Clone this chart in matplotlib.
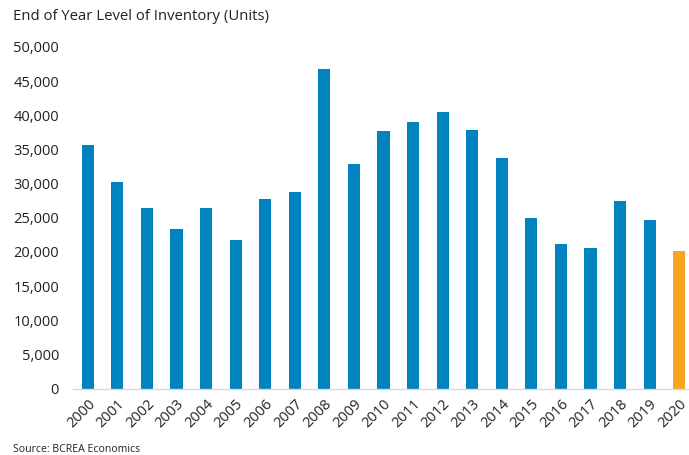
import matplotlib
matplotlib.use("Agg")
import matplotlib.pyplot as plt
from matplotlib.ticker import FuncFormatter

years = [str(y) for y in range(2000, 2021)]
inventory = [35600, 30250, 26500, 23300, 26400, 21700, 27700, 28700, 46800, 32900,
             37700, 39000, 40500, 37900, 33800, 25000, 21100, 20600, 27400, 24600, 20200]
highlight_year = "2020"

blue = "#0083BE"
orange = "#F7A51E"
colors = [orange if y == highlight_year else blue for y in years]

plt.rcParams['font.family'] = ['Open Sans', 'DejaVu Sans']

fig = plt.figure(figsize=(6.89, 4.55), dpi=100)
ax = fig.add_axes([73/689, 66.5/455, (694-73)/689, (388.5-47)/455])
x = range(len(years))
ax.bar(x, inventory, width=0.41, color=colors)
ax.set_xlim(-0.5, len(years) - 0.5)
ax.set_ylim(0, 50000)
ax.set_yticks(range(0, 50001, 5000))
ax.yaxis.set_major_formatter(FuncFormatter(lambda v, p: f"{int(v):,}"))
ax.set_xticks(list(x))
ax.set_xticklabels(years, rotation=45, ha='right', rotation_mode='anchor')
for s in ['top', 'right', 'left']:
    ax.spines[s].set_visible(False)
ax.spines['bottom'].set_color('#D9D9D9')
ax.spines['bottom'].set_linewidth(1)
ax.tick_params(axis='both', length=0, labelsize=10.5, colors='#222222')
ax.tick_params(axis='y', pad=10)
ax.tick_params(axis='x', pad=6)

fig.text(13/689, 1 - 16/455, "End of Year Level of Inventory (Units)", fontsize=10.7,
         va='center', ha='left', color='#222222')
fig.text(13/689, 1 - 450/455, "Source: BCREA Economics", fontsize=7.6,
         va='center', ha='left', color='#222222')

fig.savefig("out.png", dpi=100)
